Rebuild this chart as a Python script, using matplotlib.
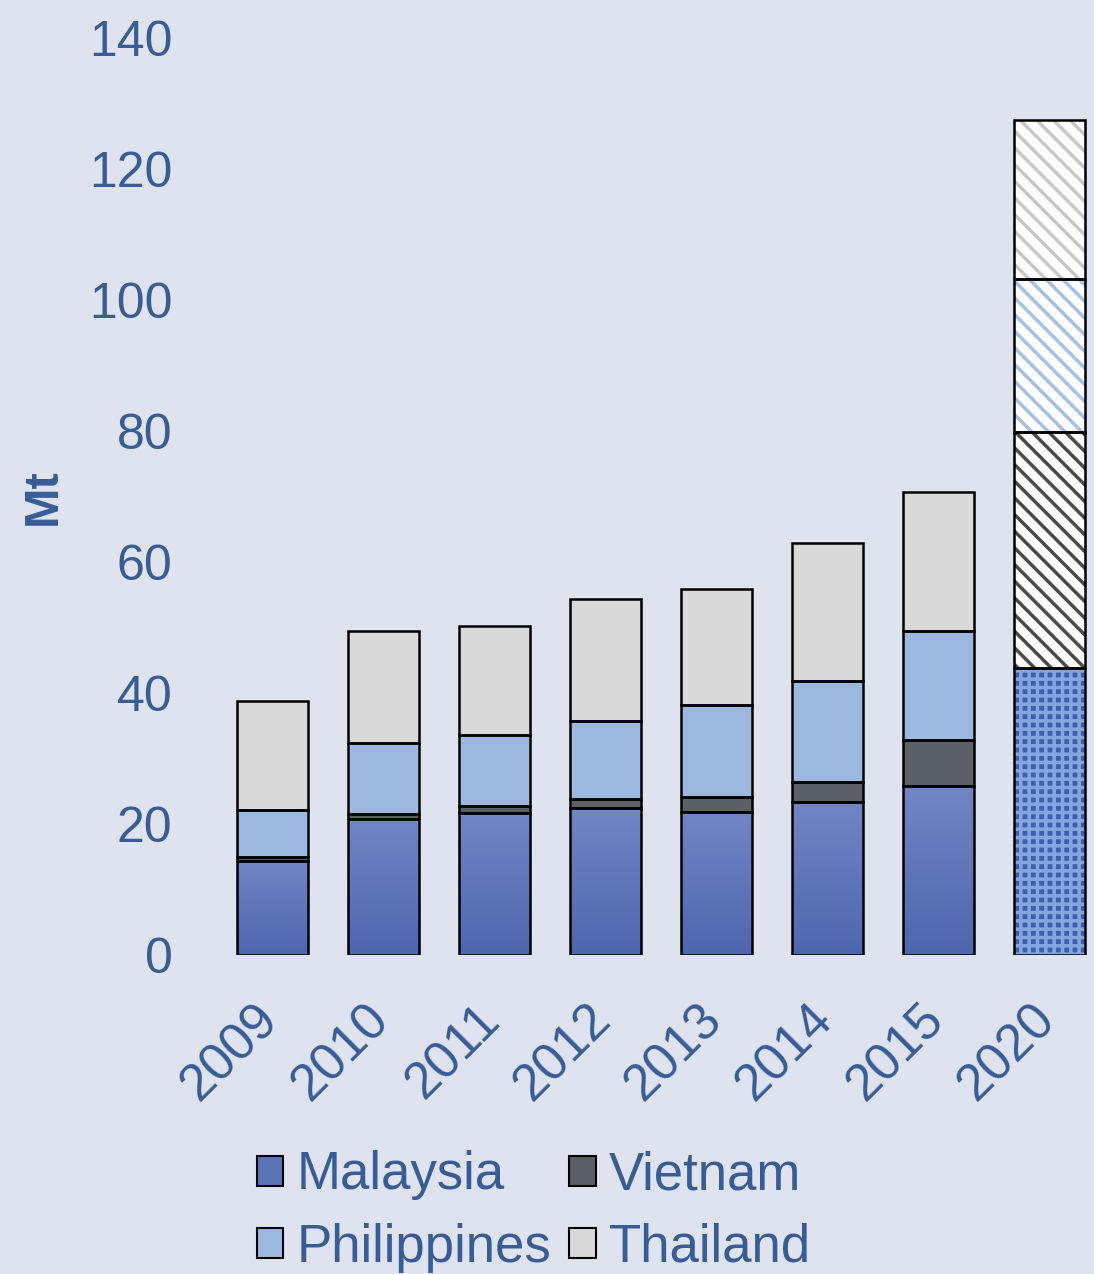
import matplotlib
matplotlib.use("Agg")
import matplotlib.pyplot as plt
import numpy as np
from matplotlib.patches import Patch
from matplotlib.colors import LinearSegmentedColormap
from matplotlib.transforms import ScaledTranslation

# data (Mt); 2020 is a projection
years = ['2009', '2010', '2011', '2012', '2013', '2014', '2015', '2020']
malaysia = [14.4, 20.8, 21.7, 22.4, 21.8, 23.4, 25.8, 43.8]
vietnam = [0.6, 0.7, 1.0, 1.4, 2.3, 3.0, 7.0, 36.0]
philippines = [7.1, 10.9, 10.9, 11.9, 14.1, 15.4, 16.7, 23.4]
thailand = [16.7, 17.1, 16.6, 18.7, 17.7, 21.1, 21.2, 24.3]

plt.rcParams['font.family'] = ['Liberation Sans', 'DejaVu Sans']
plt.rcParams['hatch.linewidth'] = 2.5

bg = '#dfe3f0'
txt = '#375c96'

fig = plt.figure(figsize=(10.94, 12.74), dpi=100, facecolor=bg)
ax = fig.add_axes([0.1984, 0.2504, 0.8016, 0.7198])
ax.set_facecolor(bg)

x = np.arange(len(years))
w = 0.64
n_hist = 7  # solid bars, the last one is hatched

series = [('Malaysia', malaysia, '#5a72b8'),
          ('Vietnam', vietnam, '#5a6065'),
          ('Philippines', philippines, '#9db8de'),
          ('Thailand', thailand, '#d9d9d9')]
hatch_col = {'Malaysia': '#85a5de', 'Vietnam': '#4a4a4a',
             'Philippines': '#a6c1e6', 'Thailand': '#c8c8c8'}

grad = np.linspace(0, 1, 256).reshape(-1, 1)
mal_cmap = LinearSegmentedColormap.from_list('mal', ['#4e66ad', '#7286c5'])

bottom = np.zeros(len(years))
for name, vals, col in series:
    vals = np.array(vals)
    bars = ax.bar(x[:n_hist], vals[:n_hist], w, bottom=bottom[:n_hist],
                  color=col, linewidth=0, zorder=2)
    if name == 'Malaysia':
        for b in bars:
            im = ax.imshow(grad, cmap=mal_cmap, origin='lower', aspect='auto',
                           extent=(b.get_x(), b.get_x() + b.get_width(),
                                   b.get_y(), b.get_y() + b.get_height()),
                           zorder=2.1)
            im.set_clip_path(b)
    ax.bar(x[:n_hist], vals[:n_hist], w, bottom=bottom[:n_hist],
           fill=False, edgecolor='black', linewidth=1.8, zorder=3)

    # 2020 projection
    if name == 'Malaysia':
        face, hatch = '#3f5fa8', '++'
    else:
        face, hatch = 'white', '\\\\'
    ax.bar(x[n_hist], vals[n_hist], w, bottom=bottom[n_hist], color=face,
           edgecolor=hatch_col[name], hatch=hatch, linewidth=0, zorder=2)
    ax.bar(x[n_hist], vals[n_hist], w, bottom=bottom[n_hist], fill=False,
           edgecolor='black', linewidth=1.8, zorder=3)
    bottom += vals

ax.set_xlim(-0.5, 7.4)
ax.set_ylim(0, 140)
ax.set_yticks(np.arange(0, 141, 20))
for s in ax.spines.values():
    s.set_visible(False)

ax.tick_params(axis='y', length=0, pad=32, labelsize=36, labelcolor=txt)
ax.tick_params(axis='x', length=0, pad=29, labelsize=37, labelcolor=txt)
ax.set_xticks(x, years, rotation=45, ha='right', va='top')
for lab in ax.get_xticklabels():
    lab.set_transform(lab.get_transform() + ScaledTranslation(0.15, 0, fig.dpi_scale_trans))

ax.set_ylabel('Mt', fontsize=35, fontweight='bold', color=txt)
ax.yaxis.set_label_coords(-0.172, 0.5)

handles = [Patch(facecolor='#5a72b8', edgecolor='black', linewidth=1.5),
           Patch(facecolor='#9db8de', edgecolor='black', linewidth=1.5),
           Patch(facecolor='#5a6065', edgecolor='black', linewidth=1.5),
           Patch(facecolor='#d9d9d9', edgecolor='black', linewidth=1.5)]
labels = ['Malaysia', 'Philippines', 'Vietnam', 'Thailand']
fig.legend(handles, labels, ncol=2, loc='center', bbox_to_anchor=(0.488, 0.049),
           frameon=False, fontsize=38, handlelength=0.5, handleheight=0.5,
           handletextpad=0.25, columnspacing=0.35, labelspacing=0.42,
           labelcolor=txt)

fig.savefig('out.png', dpi=100, facecolor=bg)
